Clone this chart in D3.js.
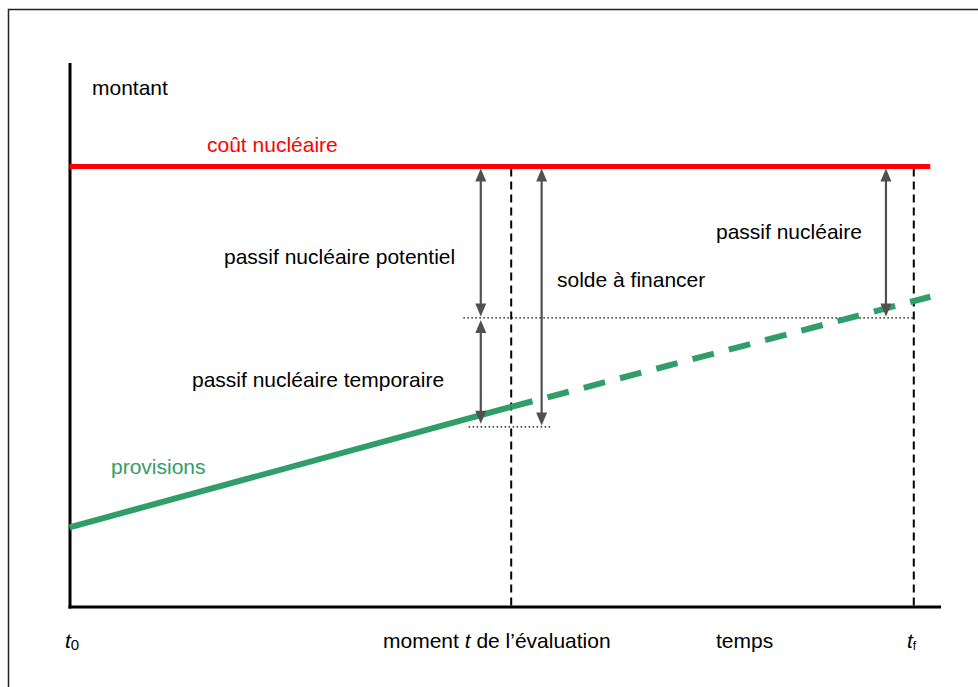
<!DOCTYPE html>
<html>
<head>
<meta charset="utf-8">
<script src="https://cdn.jsdelivr.net/npm/d3@7/dist/d3.min.js"></script>
<style>
html,body{margin:0;padding:0;background:#fff;}
svg{display:block;}
text{font-family:"Liberation Sans",Arial,sans-serif;font-size:21px;}
</style>
</head>
<body>
<svg id="chart" width="978" height="687"></svg>
<script>
// ---- data (schematic units 0..100) ----
const timeMarks = { t0: 0, tEval: 50.8, tF: 97.1, tEnd: 99 };
const coutNucleaire = [[0, 81.1], [99, 81.1]];
const provisionsRealisees = [[0, 14.6], [50.8, 36.8]];
const provisionsPrevues = [[50.8, 36.8], [99, 57.1]];
const niveauDotted = [
  { x0: 45.3, x1: 97.1, y: 53.2 },
  { x0: 45.9, x1: 55.3, y: 33.1 }
];
const arrows = [
  { x: 47.3, y0: 81.1, y1: 53.2, label: "passif nucléaire potentiel" },
  { x: 47.3, y0: 53.2, y1: 33.4, label: "passif nucléaire temporaire" },
  { x: 54.3, y0: 81.1, y1: 33.1, label: "solde à financer" },
  { x: 93.9, y0: 81.1, y1: 53.2, label: "passif nucléaire" }
];
const axisLabels = { y: "montant", x: "temps", tEval: ["moment ", "t", " de l’évaluation"] };
const seriesLabels = { cout: "coût nucléaire", provisions: "provisions" };

// ---- layout ----
const svg = d3.select("#chart");
const x = d3.scaleLinear().domain([0, 100]).range([69.5, 939]);
const y = d3.scaleLinear().domain([0, 100]).range([606.5, 64]);

// frame
svg.append("rect").attr("x", 8.5).attr("y", 9.5).attr("width", 990).attr("height", 700)
  .attr("fill", "none").attr("stroke", "#222").attr("stroke-width", 1.5);

// axes
const gx = svg.append("g").attr("transform", `translate(0,${y(0)})`)
  .call(d3.axisBottom(x).tickValues([]).tickSizeOuter(0));
const gy = svg.append("g").attr("transform", `translate(${x(0)},0)`)
  .call(d3.axisLeft(y).tickValues([]).tickSizeOuter(0));
[gx, gy].forEach(g => g.select(".domain").attr("stroke", "#000").attr("stroke-width", 3).attr("stroke-linecap", "square"));

const line = d3.line().x(d => x(d[0])).y(d => y(d[1]));

// vertical dashed lines
[timeMarks.tEval, timeMarks.tF].forEach(t => {
  svg.append("line").attr("x1", x(t)).attr("x2", x(t))
    .attr("y1", y(coutNucleaire[0][1]) + 2).attr("y2", y(0))
    .attr("stroke", "#000").attr("stroke-width", 2).attr("stroke-dasharray", "8,5");
});

// dotted level lines
niveauDotted.forEach(d => {
  svg.append("line").attr("x1", x(d.x0)).attr("x2", x(d.x1))
    .attr("y1", y(d.y)).attr("y2", y(d.y))
    .attr("stroke", "#000").attr("stroke-width", 1.3).attr("stroke-dasharray", "1.5,2.5");
});

// provisions
const green = "#2f9e68";
svg.append("path").attr("d", line(provisionsRealisees)).attr("fill", "none")
  .attr("stroke", green).attr("stroke-width", 6);
svg.append("path").attr("d", line(provisionsPrevues)).attr("fill", "none")
  .attr("stroke", green).attr("stroke-width", 6).attr("stroke-dasharray", "22,15.5");

// cout nucleaire
svg.append("path").attr("d", line(coutNucleaire)).attr("fill", "none")
  .attr("stroke", "#ff0000").attr("stroke-width", 5);

// arrows
const ag = "#505050";
arrows.forEach(a => {
  const xa = x(a.x), top = y(a.y0) + 2, bot = y(a.y1) - 1.5;
  const hl = 13, hw = 5.5;
  svg.append("line").attr("x1", xa).attr("x2", xa).attr("y1", top + hl - 2).attr("y2", bot - hl + 2)
    .attr("stroke", ag).attr("stroke-width", 2.2);
  svg.append("path").attr("d", `M${xa},${top} L${xa - hw},${top + hl} L${xa + hw},${top + hl} Z`).attr("fill", ag);
  svg.append("path").attr("d", `M${xa},${bot} L${xa - hw},${bot - hl} L${xa + hw},${bot - hl} Z`).attr("fill", ag);
});

// texts
function txt(s, px, py, fill) {
  return svg.append("text").attr("x", px).attr("y", py).attr("fill", fill || "#000").text(s);
}
txt(axisLabels.y, 92, 95);
txt(seriesLabels.cout, 207, 152, "#ff0000");
txt(seriesLabels.provisions, 111, 474, green);
txt(arrows[0].label, 224, 264);
txt(arrows[1].label, 192, 387);
txt(arrows[2].label, 557, 287);
txt(arrows[3].label, 716, 239);

// x tick labels
const t0 = svg.append("text").attr("x", 65).attr("y", 648);
t0.append("tspan").attr("font-style", "italic").text("t");
t0.append("tspan").attr("font-size", "15px").attr("dy", 2).text("0");

const me = svg.append("text").attr("x", 383).attr("y", 648);
me.append("tspan").text(axisLabels.tEval[0]);
me.append("tspan").attr("font-style", "italic").text(axisLabels.tEval[1]);
me.append("tspan").text(axisLabels.tEval[2]);

txt(axisLabels.x, 716, 648);

const tf = svg.append("text").attr("x", 907).attr("y", 648);
tf.append("tspan").attr("font-style", "italic").text("t");
tf.append("tspan").attr("font-size", "12px").attr("dy", 2).text("f");
</script>
</body>
</html>
